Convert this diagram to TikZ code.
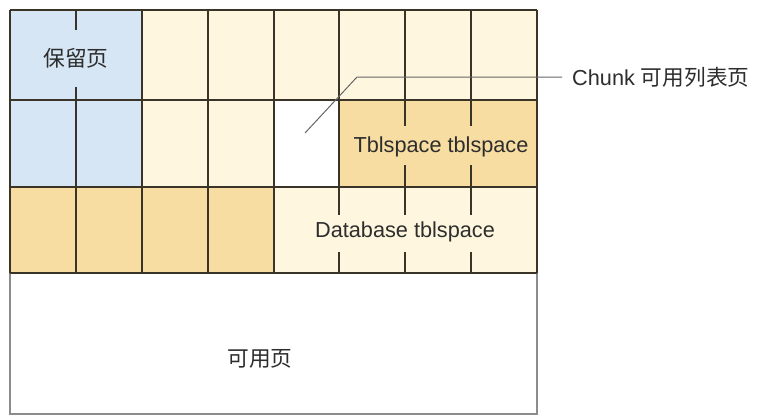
\documentclass[tikz,border=0pt]{standalone}
\usepackage{fontspec}
\setmainfont{Liberation Sans}
\newfontfamily\cjk{Noto Sans CJK SC}
\definecolor{cblue}{RGB}{214,230,245}
\definecolor{cpale}{RGB}{254,246,222}
\definecolor{corange}{RGB}{247,221,162}
\definecolor{cgrid}{RGB}{58,52,40}
\definecolor{cborder}{RGB}{140,140,140}
\definecolor{ctext}{RGB}{45,45,45}
\tikzset{
  gridline/.style={draw=cgrid, line width=1.3pt},
  outline/.style={draw=cborder, line width=1.3pt},
  lbl/.style={text=ctext, font=\fontsize{21.7}{24}\selectfont, inner sep=1pt},
  callout/.style={draw=black!60, line width=1pt}
}
\begin{document}
\begin{tikzpicture}[x=1pt,y=-1pt]
\useasboundingbox (0,0) rectangle (759,418);
% fills
\fill[cblue] (10,10) rectangle (142,187);
\fill[cpale] (142,10) rectangle (537,100);
\fill[cpale] (142,100) rectangle (274,187);
\fill[white] (274,100) rectangle (339,187);
\fill[corange] (339,100) rectangle (537,187);
\fill[corange] (10,187) rectangle (274,273);
\fill[cpale] (274,187) rectangle (537,273);
\fill[white] (10,273) rectangle (537,414);
% lower box border
\draw[outline] (10,273) -- (10,414) -- (537,414) -- (537,273);
% horizontal grid lines
\draw[gridline] (10,10) -- (537,10);
\draw[gridline] (10,100) -- (537,100);
\draw[gridline] (10,187) -- (537,187);
\draw[gridline] (10,273) -- (537,273);
% vertical grid lines
\draw[gridline] (10,10) -- (10,273);
\draw[gridline] (537,10) -- (537,273);
\draw[gridline] (76,10) -- (76,30) (76,87) -- (76,273);
\draw[gridline] (142,10) -- (142,273);
\draw[gridline] (208,10) -- (208,273);
\draw[gridline] (274,10) -- (274,273);
\draw[gridline] (339,10) -- (339,215) (339,252) -- (339,273);
\draw[gridline] (405,10) -- (405,126) (405,165) -- (405,215) (405,252) -- (405,273);
\draw[gridline] (471,10) -- (471,126) (471,165) -- (471,215) (471,252) -- (471,273);
% labels
\node[lbl] (reserved) at (76,58) {\cjk 保留页};
\node[lbl] (tbl) at (441,147) {Tblspace tblspace};
\node[lbl] (db) at (405,232) {Database tblspace};
\node[lbl] (free) at (260,359) {\cjk 可用页};
\node[lbl, anchor=west, inner xsep=10pt] (chunk) at (562,77) {Chunk {\cjk 可用列表页}};
% callout
\coordinate (ctip) at (305,133);
\coordinate (cbend) at (357,77);
\draw[callout] (ctip) -- (cbend) -- (chunk.west);
\end{tikzpicture}
\end{document}
